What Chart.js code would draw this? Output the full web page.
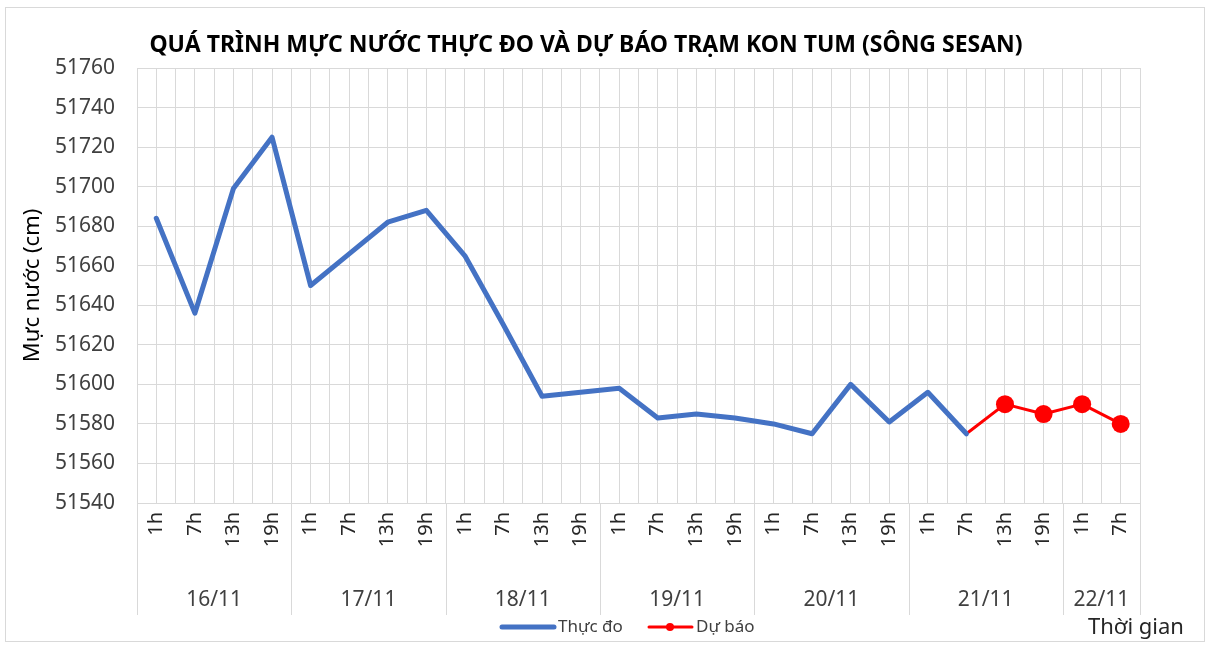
<!DOCTYPE html>
<html>
<head>
<meta charset="utf-8">
<script src="https://cdn.jsdelivr.net/npm/chart.js@4.4.1/dist/chart.umd.min.js"></script>
<style>
  html, body { margin: 0; padding: 0; background: #fff; }
  canvas { display: block; }
</style>
</head>
<body>
<canvas id="grafico" width="1211" height="648"></canvas>
<script>
// Datos del gráfico
const gioLabels = ['1h','7h','13h','19h','1h','7h','13h','19h','1h','7h','13h','19h',
                   '1h','7h','13h','19h','1h','7h','13h','19h','1h','7h','13h','19h','1h','7h'];
const ngayLabels = ['16/11','17/11','18/11','19/11','20/11','21/11','22/11'];
const ngaySoMoc = [4, 4, 4, 4, 4, 4, 2];

const thucDo = [51684, 51636, 51699, 51725, 51650, 51666, 51682, 51688,
                51665, 51630, 51594, 51596, 51598, 51583, 51585, 51583,
                51580, 51575, 51600, 51581, 51596, 51575];
const duBao = [null, null, null, null, null, null, null, null, null, null, null,
               null, null, null, null, null, null, null, null, null, null,
               51575, 51590, 51585, 51590, 51580];
const yMin = 51540, yMax = 51760, yStep = 20;

const tieuDe = 'QUÁ TRÌNH MỰC NƯỚC THỰC ĐO VÀ DỰ BÁO TRẠM KON TUM (SÔNG SESAN)';
const FONT = "'Noto Sans', sans-serif";
const GRID = '#d9d9d9';

// Plugin: título, etiquetas de días, separadores y leyenda
const extrasPlugin = {
    id: 'extras',
    beforeDraw(chart) {
        const ctx = chart.ctx;
        ctx.save();
        ctx.strokeStyle = GRID;
        ctx.lineWidth = 1;
        ctx.strokeRect(5.5, 7.5, 1199, 634);
        ctx.restore();
    },
    afterDraw(chart) {
        const ctx = chart.ctx;
        const x = chart.scales.x;
        const area = chart.chartArea;
        ctx.save();

        // título
        ctx.fillStyle = '#000';
        ctx.font = 'bold 23px ' + FONT;
        ctx.textAlign = 'center';
        ctx.textBaseline = 'middle';
        ctx.fillText(tieuDe, 586, 45);

        // separadores y días
        ctx.strokeStyle = GRID;
        ctx.lineWidth = 1;
        const bottomSep = 615;
        const vline = (px) => {
            ctx.beginPath();
            ctx.moveTo(Math.round(px) + 0.5, area.bottom);
            ctx.lineTo(Math.round(px) + 0.5, bottomSep);
            ctx.stroke();
        };
        vline(area.left);
        vline(area.right);
        ctx.fillStyle = '#404040';
        ctx.font = '21px ' + FONT;
        let idx = 0;
        ngayLabels.forEach((d, k) => {
            const first = idx, last = idx + ngaySoMoc[k] - 1;
            const cx = (x.getPixelForValue(first) + x.getPixelForValue(last)) / 2;
            ctx.fillText(d, cx, 600);
            if (last < gioLabels.length - 1) {
                vline((x.getPixelForValue(last) + x.getPixelForValue(last + 1)) / 2);
            }
            idx = last + 1;
        });

        // leyenda
        ctx.lineCap = 'round';
        ctx.strokeStyle = '#4472C4';
        ctx.lineWidth = 5;
        ctx.beginPath(); ctx.moveTo(502, 627); ctx.lineTo(554, 627); ctx.stroke();
        ctx.strokeStyle = '#FF0000';
        ctx.lineWidth = 3;
        ctx.beginPath(); ctx.moveTo(649, 627); ctx.lineTo(692, 627); ctx.stroke();
        ctx.fillStyle = '#FF0000';
        ctx.beginPath(); ctx.arc(670, 627, 4, 0, Math.PI * 2); ctx.fill();
        ctx.fillStyle = '#404040';
        ctx.font = '17px ' + FONT;
        ctx.textAlign = 'left';
        ctx.fillText('Thực đo', 558, 627);
        ctx.fillText('Dự báo', 696, 627);

        // eje X
        ctx.fillStyle = '#262626';
        ctx.font = '22px ' + FONT;
        ctx.fillText('Thời gian', 1088, 628);
        ctx.restore();
    }
};

const ctx = document.getElementById('grafico').getContext('2d');
new Chart(ctx, {
    type: 'line',
    data: {
        labels: gioLabels,
        datasets: [
            {
                label: 'Thực đo',
                data: thucDo,
                borderColor: '#4472C4',
                backgroundColor: '#4472C4',
                borderWidth: 5,
                pointRadius: 0,
                borderJoinStyle: 'round',
                borderCapStyle: 'round',
                tension: 0
            },
            {
                label: 'Dự báo',
                data: duBao,
                borderColor: '#FF0000',
                backgroundColor: '#FF0000',
                borderWidth: 3,
                pointRadius: (c) => (c.dataIndex === 21 ? 0 : 9),
                pointBorderWidth: 0,
                borderJoinStyle: 'round',
                tension: 0
            }
        ]
    },
    options: {
        responsive: false,
        animation: false,
        devicePixelRatio: 1,
        layout: { padding: { top: 68, left: 10, right: 71, bottom: 0 } },
        plugins: {
            legend: { display: false },
            tooltip: { enabled: false }
        },
        scales: {
            x: {
                type: 'category',
                offset: true,
                grid: { offset: false, color: GRID, drawTicks: false },
                border: { color: GRID },
                ticks: {
                    autoSkip: false,
                    minRotation: 90,
                    maxRotation: 90,
                    padding: 9,
                    color: '#262626',
                    font: { family: FONT, size: 20 }
                },
                afterFit(scale) { scale.height = 145; }
            },
            x2: {
                type: 'category',
                position: 'top',
                labels: gioLabels,
                offset: true,
                grid: { offset: true, color: GRID, drawTicks: false },
                border: { display: false },
                ticks: { display: false },
                afterFit(scale) { scale.height = 0; }
            },
            y: {
                min: yMin,
                max: yMax,
                ticks: {
                    stepSize: yStep,
                    padding: 22,
                    color: '#404040',
                    font: { family: FONT, size: 21 },
                    callback: (v) => String(v)
                },
                grid: { color: GRID, drawTicks: false },
                border: { color: GRID },
                title: {
                    display: true,
                    text: 'Mực nước (cm)',
                    color: '#000',
                    font: { family: FONT, size: 22 },
                    padding: { top: 10, bottom: 0 }
                },
                afterFit(scale) { scale.width = 127; }
            }
        }
    },
    plugins: [extrasPlugin]
});
</script>
</body>
</html>
